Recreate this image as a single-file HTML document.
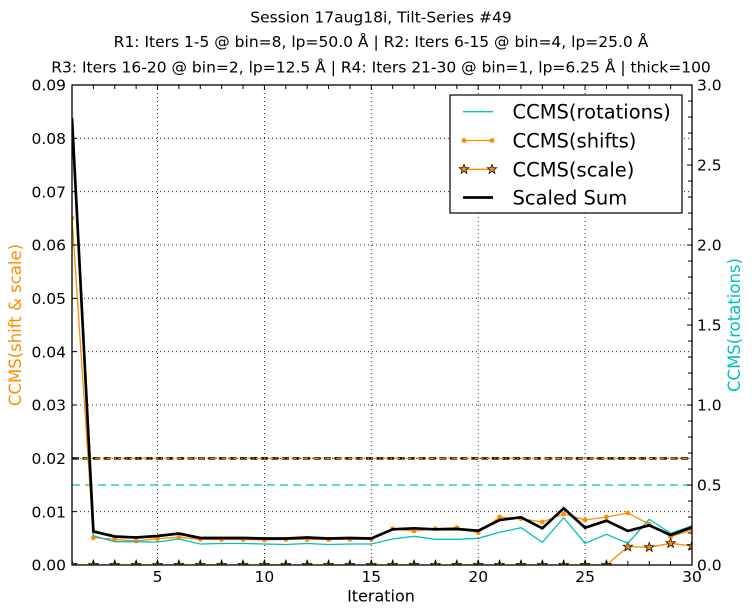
<!DOCTYPE html>
<html><head><meta charset="utf-8"><style>
html,body{margin:0;padding:0;background:#fff;}
svg{display:block;font-family:"DejaVu Sans","Liberation Sans",sans-serif;}
</style></head><body>
<svg width="752" height="611" viewBox="0 0 752 611" xmlns="http://www.w3.org/2000/svg">
<defs>
<clipPath id="pa"><rect x="72" y="85" width="620" height="480"/></clipPath>
<path id="star" d="M0,-5 L1.176,-1.618 L4.755,-1.545 L1.902,0.618 L2.939,4.045 L0,2 L-2.939,4.045 L-1.902,0.618 L-4.755,-1.545 L-1.176,-1.618 Z" fill="#FF8C00" stroke="#000" stroke-width="0.7"/>
<circle id="dot" r="2.4" fill="#FF8C00"/>
</defs>
<rect width="752" height="611" fill="#fff"/>

<!-- title -->
<g font-size="15.5" text-anchor="middle" fill="#000">
<text x="381" y="22.5">Session 17aug18i, Tilt-Series #49</text>
<text x="381" y="47">R1: Iters 1-5 @ bin=8, lp=50.0 Å | R2: Iters 6-15 @ bin=4, lp=25.0 Å</text>
<text x="381" y="72.5">R3: Iters 16-20 @ bin=2, lp=12.5 Å | R4: Iters 21-30 @ bin=1, lp=6.25 Å | thick=100</text>
</g>

<!-- grid -->
<g stroke="#000" stroke-width="0.8" stroke-dasharray="1,3" fill="none">
<line x1="157.52" y1="85" x2="157.52" y2="565"/>
<line x1="264.41" y1="85" x2="264.41" y2="565"/>
<line x1="371.31" y1="85" x2="371.31" y2="565"/>
<line x1="478.21" y1="85" x2="478.21" y2="565"/>
<line x1="585.10" y1="85" x2="585.10" y2="565"/>
<line x1="72" y1="511.67" x2="692" y2="511.67"/>
<line x1="72" y1="458.33" x2="692" y2="458.33"/>
<line x1="72" y1="405" x2="692" y2="405"/>
<line x1="72" y1="351.67" x2="692" y2="351.67"/>
<line x1="72" y1="298.33" x2="692" y2="298.33"/>
<line x1="72" y1="245" x2="692" y2="245"/>
<line x1="72" y1="191.67" x2="692" y2="191.67"/>
<line x1="72" y1="138.33" x2="692" y2="138.33"/>
</g>

<g clip-path="url(#pa)" fill="none" stroke-linejoin="miter">
<!-- threshold lines -->
<line x1="72" y1="458.33" x2="692" y2="458.33" stroke="#000" stroke-width="2.5" stroke-dasharray="7,3.5"/>
<line x1="72" y1="458.33" x2="692" y2="458.33" stroke="#FF8C00" stroke-width="1.2" stroke-dasharray="6,2,1.5,2"/>
<line x1="72" y1="485" x2="692" y2="485" stroke="#00BFBF" stroke-width="1.2" stroke-dasharray="8,5"/>

<!-- shifts -->
<polyline stroke="#FF8C00" stroke-width="1.3" points="72,218 93.38,537.7 114.76,539.3 136.14,541 157.52,538.7 178.9,537.3 200.28,539.3 221.66,539.5 243.03,539.5 264.41,540 285.79,539.5 307.17,539.5 328.55,539.5 349.93,539.3 371.31,539.3 392.69,528.7 414.07,531 435.45,528.7 456.83,527.7 478.21,532.7 499.59,517 520.97,518.7 542.34,522 563.72,514 585.1,520 606.48,517 627.86,513 649.24,524.3 670.62,536.7 692,530"/>
<g>
<use href="#dot" x="72" y="218"/><use href="#dot" x="93.38" y="537.7"/><use href="#dot" x="114.76" y="539.3"/><use href="#dot" x="136.14" y="541"/><use href="#dot" x="157.52" y="538.7"/><use href="#dot" x="178.9" y="537.3"/><use href="#dot" x="200.28" y="539.3"/><use href="#dot" x="221.66" y="539.5"/><use href="#dot" x="243.03" y="539.5"/><use href="#dot" x="264.41" y="540"/><use href="#dot" x="285.79" y="539.5"/><use href="#dot" x="307.17" y="539.5"/><use href="#dot" x="328.55" y="539.5"/><use href="#dot" x="349.93" y="539.3"/><use href="#dot" x="371.31" y="539.3"/><use href="#dot" x="392.69" y="528.7"/><use href="#dot" x="414.07" y="531"/><use href="#dot" x="435.45" y="528.7"/><use href="#dot" x="456.83" y="527.7"/><use href="#dot" x="478.21" y="532.7"/><use href="#dot" x="499.59" y="517"/><use href="#dot" x="520.97" y="518.7"/><use href="#dot" x="542.34" y="522"/><use href="#dot" x="563.72" y="514"/><use href="#dot" x="585.1" y="520"/><use href="#dot" x="606.48" y="517"/><use href="#dot" x="627.86" y="513"/><use href="#dot" x="649.24" y="524.3"/><use href="#dot" x="670.62" y="536.7"/><use href="#dot" x="692" y="530"/>
</g>

<!-- scale -->
<polyline stroke="#FF8C00" stroke-width="1.3" points="72,565 606.48,565 627.86,546.7 649.24,547.3 670.62,543.3 692,546"/>
<g>
<use href="#star" x="72" y="565"/><use href="#star" x="93.38" y="565"/><use href="#star" x="114.76" y="565"/><use href="#star" x="136.14" y="565"/><use href="#star" x="157.52" y="565"/><use href="#star" x="178.9" y="565"/><use href="#star" x="200.28" y="565"/><use href="#star" x="221.66" y="565"/><use href="#star" x="243.03" y="565"/><use href="#star" x="264.41" y="565"/><use href="#star" x="285.79" y="565"/><use href="#star" x="307.17" y="565"/><use href="#star" x="328.55" y="565"/><use href="#star" x="349.93" y="565"/><use href="#star" x="371.31" y="565"/><use href="#star" x="392.69" y="565"/><use href="#star" x="414.07" y="565"/><use href="#star" x="435.45" y="565"/><use href="#star" x="456.83" y="565"/><use href="#star" x="478.21" y="565"/><use href="#star" x="499.59" y="565"/><use href="#star" x="520.97" y="565"/><use href="#star" x="542.34" y="565"/><use href="#star" x="563.72" y="565"/><use href="#star" x="585.1" y="565"/><use href="#star" x="606.48" y="565"/><use href="#star" x="627.86" y="546.7"/><use href="#star" x="649.24" y="547.3"/><use href="#star" x="670.62" y="543.3"/><use href="#star" x="692" y="546"/>
</g>

<!-- rotations -->
<polyline stroke="#00BFBF" stroke-width="1.3" points="72,128 93.38,535.7 114.76,541.7 136.14,541.7 157.52,542 178.9,539 200.28,544 221.66,543.5 243.03,543.5 264.41,544 285.79,544.5 307.17,543.5 328.55,544.5 349.93,544 371.31,544 392.69,539 414.07,536.3 435.45,539.3 456.83,539.3 478.21,538.3 499.59,532.3 520.97,527.7 542.34,542.3 563.72,517.7 585.1,543.3 606.48,534.3 627.86,543.3 649.24,519.3 670.62,533.3 692,525.7"/>

<!-- scaled sum -->
<polyline stroke="#000" stroke-width="2.7" points="72,118 93.38,531.5 114.76,536.5 136.14,537.5 157.52,536 178.9,533.5 200.28,538 221.66,538 243.03,538 264.41,538.5 285.79,538.5 307.17,537.5 328.55,538.5 349.93,538 371.31,538.5 392.69,529.3 414.07,528.3 435.45,529.3 456.83,529 478.21,530.7 499.59,520 520.97,517.3 542.34,528.3 563.72,508.3 585.1,527.7 606.48,520.7 627.86,531 649.24,525.3 670.62,535 692,527.3"/>
</g>

<!-- ticks -->
<g stroke="#000" stroke-width="1" fill="none">
<path d="M93.38,85v4M114.76,85v4M136.14,85v4M157.52,85v5M178.9,85v4M200.28,85v4M221.66,85v4M243.03,85v4M264.41,85v5M285.79,85v4M307.17,85v4M328.55,85v4M349.93,85v4M371.31,85v5M392.69,85v4M414.07,85v4M435.45,85v4M456.83,85v4M478.21,85v5M499.59,85v4M520.97,85v4M542.34,85v4M563.72,85v4M585.1,85v5M606.48,85v4M627.86,85v4M649.24,85v4M670.62,85v4"/>
<path d="M93.38,565v-4M114.76,565v-4M136.14,565v-4M157.52,565v-5M178.9,565v-4M200.28,565v-4M221.66,565v-4M243.03,565v-4M264.41,565v-5M285.79,565v-4M307.17,565v-4M328.55,565v-4M349.93,565v-4M371.31,565v-5M392.69,565v-4M414.07,565v-4M435.45,565v-4M456.83,565v-4M478.21,565v-5M499.59,565v-4M520.97,565v-4M542.34,565v-4M563.72,565v-4M585.1,565v-5M606.48,565v-4M627.86,565v-4M649.24,565v-4M670.62,565v-4"/>
<path d="M72,511.67h5M72,458.33h5M72,405h5M72,351.67h5M72,298.33h5M72,245h5M72,191.67h5M72,138.33h5"/>
<path d="M692,549h-4M692,533h-4M692,517h-4M692,501h-4M692,485h-5M692,469h-4M692,453h-4M692,437h-4M692,421h-4M692,405h-5M692,389h-4M692,373h-4M692,357h-4M692,341h-4M692,325h-5M692,309h-4M692,293h-4M692,277h-4M692,261h-4M692,245h-5M692,229h-4M692,213h-4M692,197h-4M692,181h-4M692,165h-5M692,149h-4M692,133h-4M692,117h-4M692,101h-4"/>
</g>

<!-- axes frame -->
<rect x="72" y="85" width="620" height="480" fill="none" stroke="#000" stroke-width="1.3"/>

<!-- legend -->
<rect x="450" y="95" width="232" height="118" fill="#fff" stroke="#000" stroke-width="1.2"/>
<line x1="463" y1="111.7" x2="493" y2="111.7" stroke="#00BFBF" stroke-width="1.3"/>
<line x1="463" y1="140.5" x2="493" y2="140.5" stroke="#FF8C00" stroke-width="1.3"/>
<use href="#dot" x="464" y="140.5"/><use href="#dot" x="492" y="140.5"/>
<line x1="463" y1="169.3" x2="493" y2="169.3" stroke="#FF8C00" stroke-width="1.3"/>
<use href="#star" x="464" y="169.3"/><use href="#star" x="492" y="169.3"/>
<line x1="463" y1="197.5" x2="493" y2="197.5" stroke="#000" stroke-width="2.7"/>
<g font-size="19.5" fill="#000">
<text x="512.5" y="118.7">CCMS(rotations)</text>
<text x="512.5" y="147.5">CCMS(shifts)</text>
<text x="512.5" y="176.3">CCMS(scale)</text>
<text x="512.5" y="204.5">Scaled Sum</text>
</g>

<!-- left tick labels -->
<g font-size="15.5" text-anchor="end" fill="#000">
<text x="66" y="570.6">0.00</text>
<text x="66" y="517.3">0.01</text>
<text x="66" y="463.9">0.02</text>
<text x="66" y="410.6">0.03</text>
<text x="66" y="357.3">0.04</text>
<text x="66" y="303.9">0.05</text>
<text x="66" y="250.6">0.06</text>
<text x="66" y="197.3">0.07</text>
<text x="66" y="143.9">0.08</text>
<text x="66" y="90.6">0.09</text>
</g>
<!-- right tick labels -->
<g font-size="15.5" text-anchor="start" fill="#000">
<text x="697" y="570.6">0.0</text>
<text x="697" y="490.6">0.5</text>
<text x="697" y="410.6">1.0</text>
<text x="697" y="330.6">1.5</text>
<text x="697" y="250.6">2.0</text>
<text x="697" y="170.6">2.5</text>
<text x="697" y="90.6">3.0</text>
</g>
<!-- bottom tick labels -->
<g font-size="15.5" text-anchor="middle" fill="#000">
<text x="157.52" y="582">5</text>
<text x="264.41" y="582">10</text>
<text x="371.31" y="582">15</text>
<text x="478.21" y="582">20</text>
<text x="585.1" y="582">25</text>
<text x="692" y="582">30</text>
</g>

<!-- axis labels -->
<text x="381" y="601.5" font-size="16" text-anchor="middle" fill="#000">Iteration</text>
<text transform="translate(21,325) rotate(-90)" font-size="16.5" text-anchor="middle" fill="#FF8C00">CCMS(shift &amp; scale)</text>
<text transform="translate(740,325) rotate(-90)" font-size="16.5" text-anchor="middle" fill="#00BFBF">CCMS(rotations)</text>
</svg>
</body></html>
